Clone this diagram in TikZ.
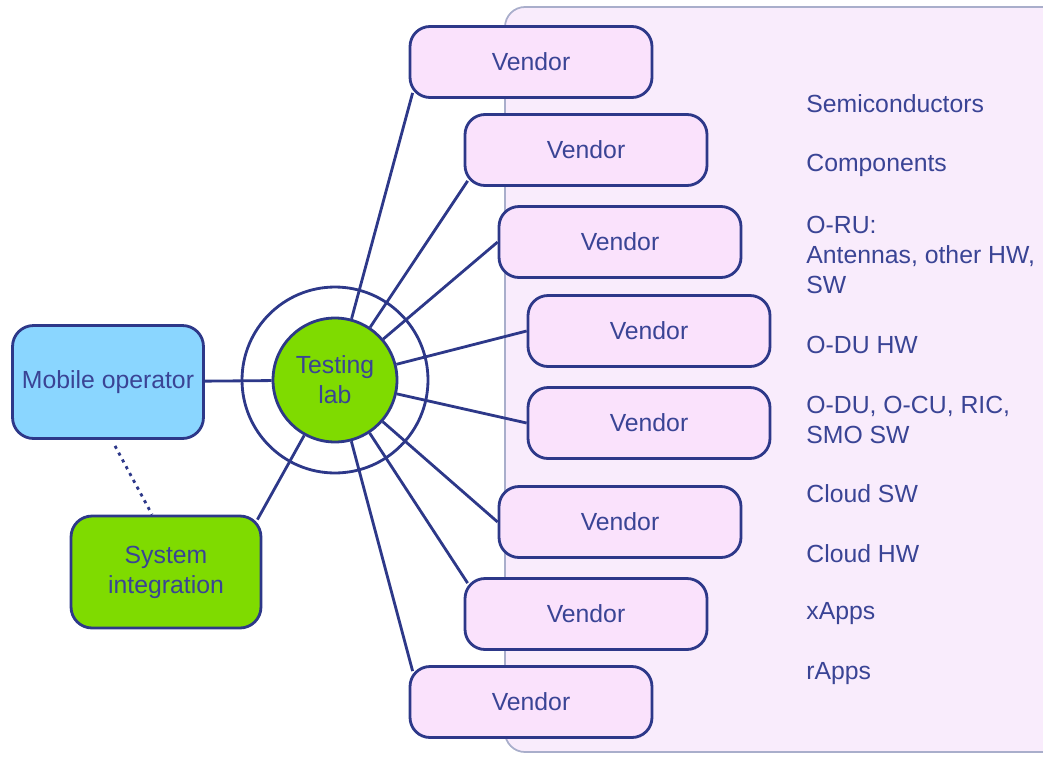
\documentclass[tikz,border=0pt]{standalone}
\usepackage{fontspec}
\setmainfont{Liberation Sans}
\definecolor{ink}{HTML}{2D3889}
\definecolor{txt}{HTML}{3A4495}
\definecolor{vfill}{HTML}{FAE2FC}
\definecolor{pfill}{HTML}{F9ECFC}
\definecolor{pline}{HTML}{A9AECB}
\definecolor{mfill}{HTML}{8AD6FF}
\definecolor{gfill}{HTML}{7FDB00}

\def\vendor#1#2#3{
	\node[vendor] (v#1) at (#2,#3) {Vendor};
}
\def\area#1#2#3{
	\node[area] (a#1) at (805,#2) {#3};
}

\begin{document}
\begin{tikzpicture}[x=0.02cm,y=-0.02cm,line width=1.6pt,color=ink,
	every node/.style={text=txt,font=\fontsize{14.1}{17}\selectfont},
	box/.style={draw=ink,rounded corners=0.42cm,minimum width=3.82cm,minimum height=2.26cm,align=center},
	vendor/.style={draw=ink,fill=vfill,rounded corners=0.4cm,minimum width=4.84cm,minimum height=1.42cm},
	area/.style={anchor=west,align=left,inner sep=0pt}]
\path[use as bounding box,clip] (0,0) rectangle (1043,757);
\draw[pline,fill=pfill,line width=1pt,rounded corners=0.4cm] (505,7) rectangle (1090,752);

\node[circle,draw=ink,minimum size=3.72cm] (ring) at (335,380) {};
\node[circle,draw=ink,fill=gfill,minimum size=2.48cm,inner sep=0pt,align=center] (lab) at (335,380) {Testing\\lab};

\node[box,fill=mfill] (mob) at (108,382) {Mobile operator};
\node[box,fill=gfill,minimum width=3.8cm,minimum height=2.24cm] (sys) at (166,572) {System\\integration};

\vendor{1}{531}{62}
\vendor{2}{586}{150}
\vendor{3}{620}{242}
\vendor{4}{649}{331}
\vendor{5}{649}{423}
\vendor{6}{620}{522}
\vendor{7}{586}{614}
\vendor{8}{531}{702}

\draw (mob) -- (lab);
\draw ([xshift=-0.1cm,yshift=-0.1cm]sys.north east) -- (lab);
\draw[dash pattern=on 1.8pt off 2.6pt] ([xshift=0.14cm,yshift=-0.12cm]mob.south) -- ([xshift=-0.28cm]sys.north);
\foreach \v in {1,2}{
	\draw (lab) -- ([xshift=0.08cm,yshift=0.12cm]v\v.south west);
}
\foreach \v in {3,4,5,6}{
	\draw (lab) -- (v\v.west);
}
\foreach \v in {7,8}{
	\draw (lab) -- ([xshift=0.08cm,yshift=-0.12cm]v\v.north west);
}

\area{1}{104}{Semiconductors}
\area{2}{165}{Components}
\area{3}{255}{O-RU:\\Antennas, other HW,\\SW}
\area{4}{345}{O-DU HW}
\area{5}{420}{O-DU, O-CU, RIC,\\SMO SW}
\area{6}{494}{Cloud SW}
\area{7}{554}{Cloud HW}
\area{8}{614}{xApps}
\area{9}{674}{rApps}
\end{tikzpicture}
\end{document}
